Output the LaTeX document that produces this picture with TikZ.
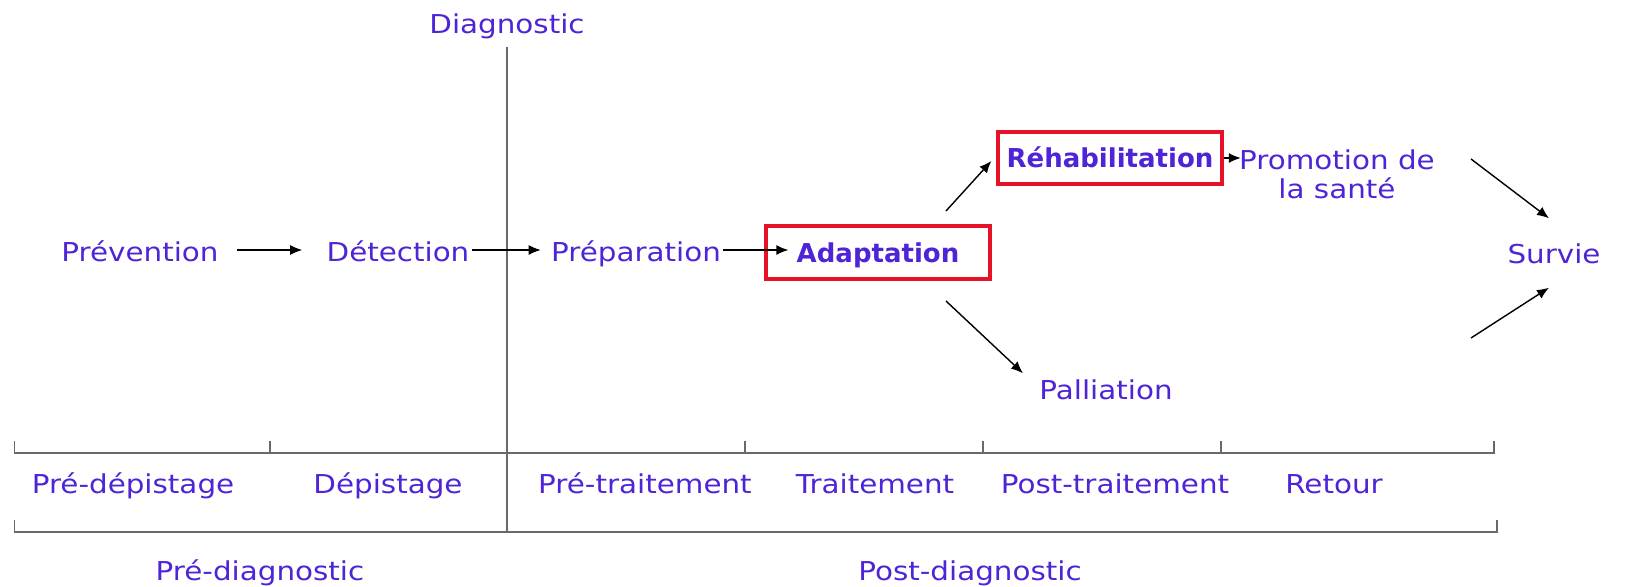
\documentclass[tikz,border=0pt]{standalone}
\usepackage{fontspec}
\setmainfont{DejaVu Sans}[FakeStretch=1.13]
\newfontfamily\boldface{DejaVu Sans Bold}[FakeStretch=1.0]
\usetikzlibrary{arrows.meta}
\definecolor{txt}{RGB}{78,36,214}
\definecolor{boxred}{RGB}{232,18,40}
\definecolor{axisgray}{RGB}{105,105,105}
\begin{document}
\begin{tikzpicture}[x=0.5pt,y=-0.5pt,
  lbl/.style={text=txt,font=\fontsize{13}{14.5}\selectfont,inner sep=0pt,text height=9.5pt,text depth=2.8pt},
  hl/.style={lbl,draw=boxred,line width=1.6pt,font=\fontsize{13}{14.5}\selectfont\boldface,text height=12.5pt,text depth=2.8pt},
  arr/.style={-{Latex[length=6pt,width=5pt]},line width=0.7pt,black},
  axisline/.style={draw=axisgray,line width=0.9pt}]
\useasboundingbox (0,0) rectangle (1630,587);

% vertical diagnostic line
\node[lbl] (diag) at (507,27) {Diagnostic};
\coordinate (vtop) at (507,47);
\coordinate (vbot) at (507,532);
\draw[axisline] (vtop) -- (vbot);

% main row
\node[lbl] (prev) at (140,255) {Prévention};
\node[lbl] (det) at (398,255) {Détection};
\node[lbl] (prep) at (636,255) {Préparation};
\node[hl,minimum width=112pt,minimum height=26.5pt] (adapt) at (878,252.5) {Adaptation};
\node[hl,minimum width=112pt,minimum height=26pt] (rehab) at (1110,158) {Réhabilitation};
\node[lbl,align=center,text height=,text depth=] (promo) at (1337,174) {Promotion de\\la santé};
\node[lbl] (surv) at (1554,257) {Survie};
\node[lbl] (pall) at (1106,393) {Palliation};

\coordinate (rowy) at (0,250);
\draw[arr] ([xshift=9pt]prev.east |- rowy) -- ([xshift=-12pt]det.west |- rowy);
\draw[arr] ([xshift=1pt]det.east |- rowy) -- ([xshift=-5pt]prep.west |- rowy);
\draw[arr] ([xshift=1pt]prep.east |- rowy) -- ([xshift=12pt]adapt.west |- rowy);

\coordinate (d1) at (946,211);
\draw[arr] (d1) -- ([xshift=-2.5pt,yshift=-1.5pt]rehab.west);
\draw[arr] (rehab.east) -- ([xshift=1pt]promo.west |- rehab.east);
\coordinate (d2) at (1471,159);
\draw[arr] (d2) -- ([xshift=-2.5pt,yshift=13pt]surv.north);
\coordinate (d3) at (1471,338);
\draw[arr] (d3) -- ([xshift=-2.5pt,yshift=-9pt]surv.south);
\coordinate (d4) at (946,301);
\draw[arr] (d4) -- ([xshift=-8pt,yshift=3.5pt]pall.north west);

% phase axis
\draw[axisline] (14.5,441) -- (14.5,453) -- (1494,453) -- (1494,441);
\foreach \x in {270,745,983,1221} \draw[axisline] (\x,441) -- (\x,453);
\node[lbl] (l1) at (133,487) {Pré-dépistage};
\node[lbl] (l2) at (388,487) {Dépistage};
\node[lbl] (l3) at (645,487) {Pré-traitement};
\node[lbl] (l4) at (875,487) {Traitement};
\node[lbl] (l5) at (1115,487) {Post-traitement};
\node[lbl] (l6) at (1334,487) {Retour};

% diagnostic axis
\draw[axisline] (14.5,520) -- (14.5,532) -- (1497,532) -- (1497,520);
\node[lbl] (pre) at (260,574) {Pré-diagnostic};
\node[lbl] (post) at (970,574) {Post-diagnostic};
\end{tikzpicture}
\end{document}
